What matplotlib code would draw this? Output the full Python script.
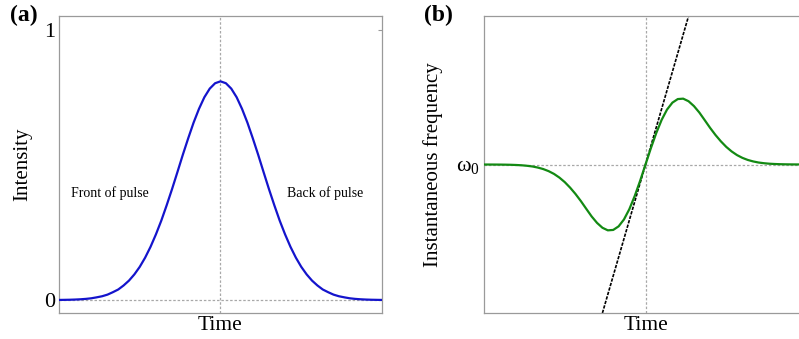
import matplotlib.pyplot as plt

plt.rcParams.update({
    "font.family": "serif",
    "font.serif": ["Liberation Serif", "DejaVu Serif"],
    "mathtext.fontset": "stix",
    "font.size": 13,
})

C_PULSE = "#1414cc"
C_FREQ = "#138a13"
C_GUIDE = "#a8a8a8"
C_FRAME = "#9a9a9a"

# sample times (arbitrary units), shared by both panels
t = [round(-3.0 + 0.1 * i, 1) for i in range(61)]

# pulse intensity, symmetric about t = 0 (values for t >= 0)
intensity_half = [0.810, 0.803, 0.783, 0.751, 0.708, 0.657, 0.599, 0.538, 0.474, 0.411,
                  0.351, 0.294, 0.243, 0.197, 0.157, 0.123, 0.095, 0.072, 0.054, 0.039,
                  0.029, 0.020, 0.014, 0.010, 0.0065, 0.0043, 0.0028, 0.0018, 0.0011, 0.0007,
                  0.0004]
intensity = intensity_half[:0:-1] + intensity_half

# instantaneous frequency shift, antisymmetric about t = 0 (values for t >= 0)
freq_half = [0.0, 0.165, 0.318, 0.451, 0.555, 0.625, 0.661, 0.665, 0.639, 0.590,
             0.525, 0.448, 0.370, 0.298, 0.234, 0.178, 0.132, 0.095, 0.067, 0.046,
             0.031, 0.020, 0.013, 0.008, 0.005, 0.003, 0.0018, 0.0010, 0.0006, 0.0003,
             0.0002]
freq = [-v for v in freq_half[:0:-1]] + freq_half

# linear chirp at the pulse centre
chirp_t = [-0.8, 0.8]
chirp_w = [-1.5, 1.5]

fig = plt.figure(figsize=(7.99, 3.39), dpi=100)
ax1 = fig.add_axes([59 / 799, 26 / 339, 323 / 799, 297 / 339])
ax2 = fig.add_axes([484 / 799, 26 / 339, 323 / 799, 297 / 339])

for ax in (ax1, ax2):
    ax.axvline(0, color=C_GUIDE, lw=0.9, ls=(0, (2, 1.5)), zorder=1)
    ax.axhline(0, color=C_GUIDE, lw=0.9, ls=(0, (2, 1.5)), zorder=1)
    for s in ax.spines.values():
        s.set_color(C_FRAME)
        s.set_linewidth(0.9)
    ax.set_xlim(-3, 3)
    ax.set_xticks([])
    ax.set_xlabel("Time", fontsize=15.5, labelpad=2)
    ax.tick_params(axis="y", length=0, pad=3, labelsize=16)

# (a) intensity
ax1.plot(t, intensity, color=C_PULSE, lw=1.6, zorder=3, solid_joinstyle="round")
ax1.set_ylim(-0.048, 1.052)
ax1.set_yticks([0, 1])
ax1.set_yticklabels(["0", "1"])
ax1.tick_params(axis="y", right=True, direction="in", length=3, color=C_FRAME)
ax1.tick_params(axis="y", left=False)
ax1.set_ylabel("Intensity", fontsize=15)
ax1.yaxis.set_label_coords(-0.084, 0.5)
ax1.text(-2.05, 0.396, "Front of pulse", ha="center", va="center", fontsize=10)
ax1.text(1.95, 0.396, "Back of pulse", ha="center", va="center", fontsize=10)
fig.text(24 / 799, 1 - 15 / 339, "(a)", ha="center", va="center", fontsize=17, fontweight="bold")

# (b) instantaneous frequency
ax2.plot(chirp_t, chirp_w, color="black", lw=1.2, ls=(0, (2, 0.8)), zorder=2)
ax2.plot(t, freq, color=C_FREQ, lw=1.6, zorder=3, solid_joinstyle="round")
ax2.set_ylim(-1.5, 1.5)
ax2.set_yticks([0])
ax2.set_yticklabels([r"ω$_{\mathregular{0}}$"])
ax2.set_ylabel("Instantaneous frequency", fontsize=15)
ax2.yaxis.set_label_coords(-0.127, 0.5)
fig.text(438 / 799, 1 - 15 / 339, "(b)", ha="center", va="center", fontsize=17, fontweight="bold")

fig.savefig("out.png", dpi=100)
